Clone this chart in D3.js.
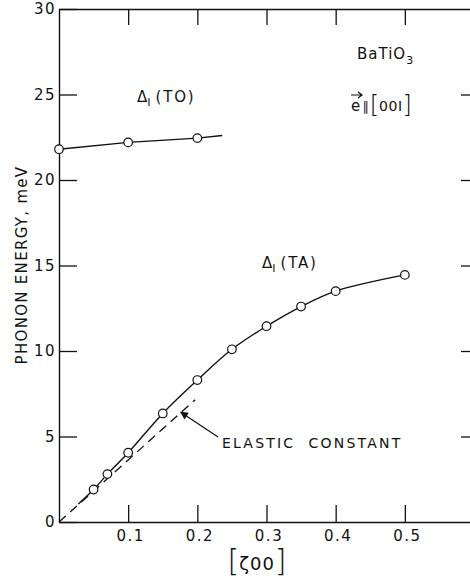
<!DOCTYPE html>
<html>
<head>
<meta charset="utf-8">
<script src="https://cdn.jsdelivr.net/npm/d3@7"></script>
<style>
  body { margin: 0; background: #fff; }
  svg { display: block; }
  text { font-family: "DejaVu Sans", sans-serif; fill: #111; }
</style>
</head>
<body>
<svg id="chart" width="470" height="579"></svg>
<script>
// measured points, [zeta, meV]
const toPoints = [[0, 21.8], [0.1, 22.2], [0.2, 22.45]];
const toLineEnd = [0.236, 22.6];
const taPoints = [[0.05, 1.9], [0.07, 2.8], [0.1, 4.05], [0.15, 6.35], [0.2, 8.3],
                  [0.25, 10.1], [0.3, 11.45], [0.35, 12.6], [0.4, 13.5], [0.5, 14.45]];
const taLineStart = [0.028, 1.05];
const elasticLine = [[0, 0], [0.197, 7.15]];
const arrowLine = [[0.23, 4.97], [0.176, 6.42]];
const xTicks = [0.1, 0.2, 0.3, 0.4, 0.5];
const yTicks = [0, 5, 10, 15, 20, 25, 30];

const svg = d3.select('#chart');
const ink = '#111';

const x = d3.scaleLinear().domain([0, 0.6]).range([59, 474]);
const y = d3.scaleLinear().domain([0, 30]).range([522, 9]);

function styleAxis(g) {
  g.select('.domain').attr('stroke', ink).attr('stroke-width', 1.4);
  g.selectAll('.tick line').attr('stroke', ink).attr('stroke-width', 1.3);
  g.selectAll('.tick text')
    .style('font-family', '"DejaVu Sans", sans-serif')
    .style('font-size', '15px')
    .style('letter-spacing', '1.5px')
    .attr('fill', ink);
}

// bottom axis
svg.append('g')
  .attr('transform', `translate(0, ${y(0)})`)
  .call(d3.axisBottom(x).tickValues(xTicks).tickSizeInner(-17).tickSizeOuter(0)
    .tickPadding(7).tickFormat(d3.format('.1f')))
  .call(styleAxis)
  .selectAll('.tick text').attr('dy', '0.8em').attr('dx', 2);

// top axis
svg.append('g')
  .attr('transform', `translate(0, ${y(30)})`)
  .call(d3.axisTop(x).tickValues(xTicks).tickSizeInner(-16).tickSizeOuter(0).tickFormat(''))
  .call(styleAxis);

// left axis
svg.append('g')
  .attr('transform', `translate(${x(0)}, 0)`)
  .call(d3.axisLeft(y).tickValues(yTicks).tickSizeInner(-18).tickSizeOuter(0).tickPadding(3))
  .call(styleAxis);

// right axis
svg.append('g')
  .attr('transform', `translate(${x(0.6)}, 0)`)
  .call(d3.axisRight(y).tickValues(yTicks.slice(1, -1)).tickSizeInner(-13).tickSizeOuter(0).tickFormat(''))
  .call(styleAxis);

const line = d3.line().x(d => x(d[0])).y(d => y(d[1]));

// elastic constant dashed line
svg.append('path')
  .attr('d', line(elasticLine))
  .attr('fill', 'none')
  .attr('stroke', ink)
  .attr('stroke-width', 1.3)
  .attr('stroke-dasharray', '9,6');

// TO branch
svg.append('path')
  .attr('d', line(toPoints.concat([toLineEnd])))
  .attr('fill', 'none')
  .attr('stroke', ink)
  .attr('stroke-width', 1.4);

// TA branch
const smooth = d3.line().x(d => x(d[0])).y(d => y(d[1])).curve(d3.curveCatmullRom.alpha(0.5));
svg.append('path')
  .attr('d', smooth([taLineStart].concat(taPoints)))
  .attr('fill', 'none')
  .attr('stroke', ink)
  .attr('stroke-width', 1.4);

svg.append('g')
  .selectAll('circle')
  .data(toPoints.concat(taPoints))
  .join('circle')
  .attr('cx', d => x(d[0]))
  .attr('cy', d => y(d[1]))
  .attr('r', 4.3)
  .attr('fill', '#fff')
  .attr('stroke', ink)
  .attr('stroke-width', 1.2);

// arrow to elastic line
svg.append('defs').append('marker')
  .attr('id', 'head')
  .attr('viewBox', '0 0 10 10')
  .attr('refX', 9).attr('refY', 5)
  .attr('markerWidth', 10).attr('markerHeight', 8)
  .attr('markerUnits', 'userSpaceOnUse')
  .attr('orient', 'auto')
  .append('path')
  .attr('d', 'M0,0L10,5L0,10Z')
  .attr('fill', ink);

svg.append('path')
  .attr('d', line(arrowLine))
  .attr('stroke', ink)
  .attr('stroke-width', 1.3)
  .attr('marker-end', 'url(#head)');

// labels
svg.append('text')
  .attr('x', 222).attr('y', 448)
  .style('font-size', '14px')
  .style('letter-spacing', '2.2px')
  .attr('xml:space', 'preserve')
  .text('ELASTIC  CONSTANT');

function deltaLabel(px, py, branch) {
  const t = svg.append('text').attr('x', px).attr('y', py).style('font-size', '15px');
  t.append('tspan').text('Δ');
  t.append('tspan').attr('dy', 4).style('font-size', '11px').text('I');
  t.append('tspan').attr('dy', -4).attr('dx', 5).style('letter-spacing', '1.8px').text(branch);
}
deltaLabel(137, 102, '(TO)');
deltaLabel(262, 268, '(TA)');

const bt = svg.append('text').attr('x', 357).attr('y', 59).style('font-size', '15px').style('letter-spacing', '1px');
bt.append('tspan').text('BaTiO');
bt.append('tspan').attr('dy', 5).style('font-size', '11px').text('3');

const et = svg.append('text').attr('x', 351).attr('y', 111).style('font-size', '15px');
et.append('tspan').text('e');
et.append('tspan').attr('dx', 2).style('font-size', '13px').text('∥');
et.append('tspan').attr('dx', 1).attr('dy', 2).style('font-size', '24px').style('font-weight', 300).text('[');
et.append('tspan').attr('dy', -2).style('font-size', '14px').style('letter-spacing', '0.5px').text('00I');
et.append('tspan').attr('dy', 2).style('font-size', '24px').style('font-weight', 300).text(']');
svg.append('path')
  .attr('d', 'M351,95H362M358,92L362,95L358,98')
  .attr('fill', 'none').attr('stroke', ink).attr('stroke-width', 1.2);

const xt = svg.append('text').attr('x', 257).attr('y', 571).attr('text-anchor', 'middle');
xt.append('tspan').style('font-size', '30px').style('font-weight', 200).text('[');
xt.append('tspan').attr('dy', -1).style('font-size', '18px').style('letter-spacing', '1px').text('ζ00');
xt.append('tspan').attr('dy', 1).style('font-size', '30px').style('font-weight', 200).text(']');

svg.append('text')
  .attr('transform', 'translate(27, 265) rotate(-90)')
  .attr('text-anchor', 'middle')
  .style('font-size', '15px')
  .style('letter-spacing', '1.3px')
  .text('PHONON  ENERGY, meV');
</script>
</body>
</html>
